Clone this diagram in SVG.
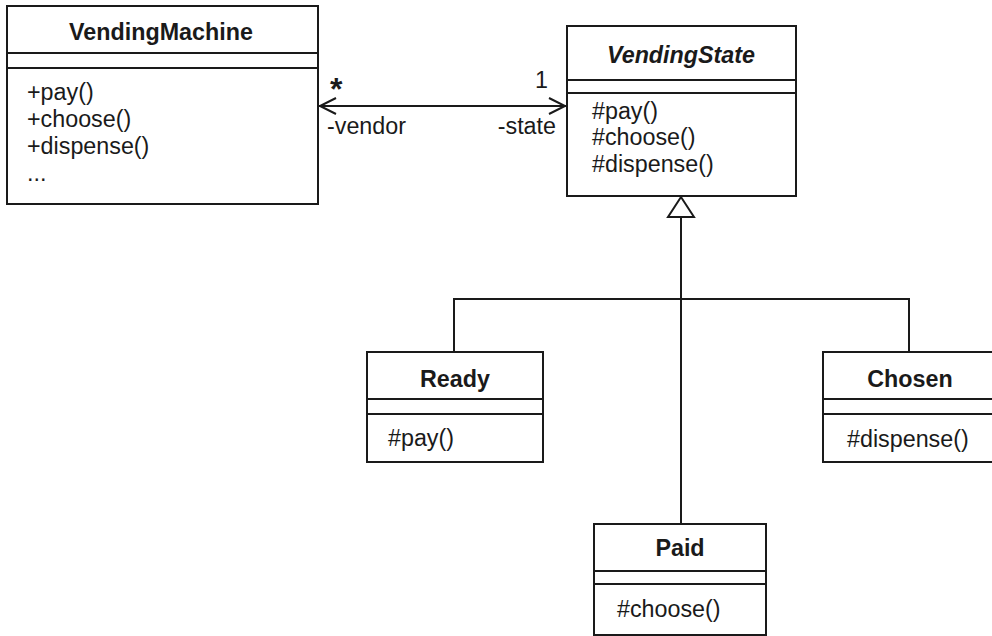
<svg xmlns="http://www.w3.org/2000/svg" width="992" height="636" viewBox="0 0 992 636">
<style>
.box{fill:#fff;stroke:#1a1a1a;stroke-width:2}
.ln{stroke:#1a1a1a;stroke-width:2;fill:none}
text{font-family:"Liberation Sans",Arial,sans-serif;font-size:23.3px;fill:#1a1a1a}
.t{font-weight:bold;text-anchor:middle}
.i{font-style:italic}
</style>
<g id="connectors">
<line class="ln" x1="319" y1="106" x2="566" y2="106"/>
<polyline class="ln" points="336,98 320,106 336,114"/>
<polyline class="ln" points="549,98 565,106 549,114"/>
<text x="330" y="100" style="font-size:32px;font-weight:bold">*</text>
<text x="548" y="88" text-anchor="end">1</text>
<text x="327" y="134">-vendor</text>
<text x="556" y="134" text-anchor="end">-state</text>
<polygon class="ln" style="fill:#fff" points="681,197 668,217 694,217"/>
<line class="ln" x1="681" y1="217" x2="681" y2="524"/>
<polyline class="ln" points="454,352 454,299 909,299 909,352"/>
</g>
<g id="VendingMachine">
<rect class="box" x="7" y="6" width="311" height="198"/>
<line class="ln" x1="7" y1="53" x2="318" y2="53"/>
<line class="ln" x1="7" y1="68" x2="318" y2="68"/>
<text class="t" x="161" y="40">VendingMachine</text>
<text x="27" y="100">+pay()</text>
<text x="27" y="127">+choose()</text>
<text x="27" y="154">+dispense()</text>
<text x="27" y="181">...</text>
</g>
<g id="VendingState">
<rect class="box" x="567" y="26" width="229" height="170"/>
<line class="ln" x1="567" y1="80" x2="796" y2="80"/>
<line class="ln" x1="567" y1="93" x2="796" y2="93"/>
<text class="t i" x="681" y="63">VendingState</text>
<text x="592" y="119">#pay()</text>
<text x="592" y="145">#choose()</text>
<text x="592" y="172">#dispense()</text>
</g>
<g id="Ready">
<rect class="box" x="367" y="352" width="176" height="110"/>
<line class="ln" x1="367" y1="399" x2="543" y2="399"/>
<line class="ln" x1="367" y1="414" x2="543" y2="414"/>
<text class="t" x="455" y="387">Ready</text>
<text x="388" y="446">#pay()</text>
</g>
<g id="Chosen">
<rect class="box" x="823" y="352" width="174" height="110"/>
<line class="ln" x1="823" y1="399" x2="997" y2="399"/>
<line class="ln" x1="823" y1="414" x2="997" y2="414"/>
<text class="t" x="910" y="387">Chosen</text>
<text x="847" y="447">#dispense()</text>
</g>
<g id="Paid">
<rect class="box" x="594" y="524" width="172" height="111"/>
<line class="ln" x1="594" y1="571" x2="766" y2="571"/>
<line class="ln" x1="594" y1="584" x2="766" y2="584"/>
<text class="t" x="680" y="556">Paid</text>
<text x="617" y="617">#choose()</text>
</g>
</svg>
